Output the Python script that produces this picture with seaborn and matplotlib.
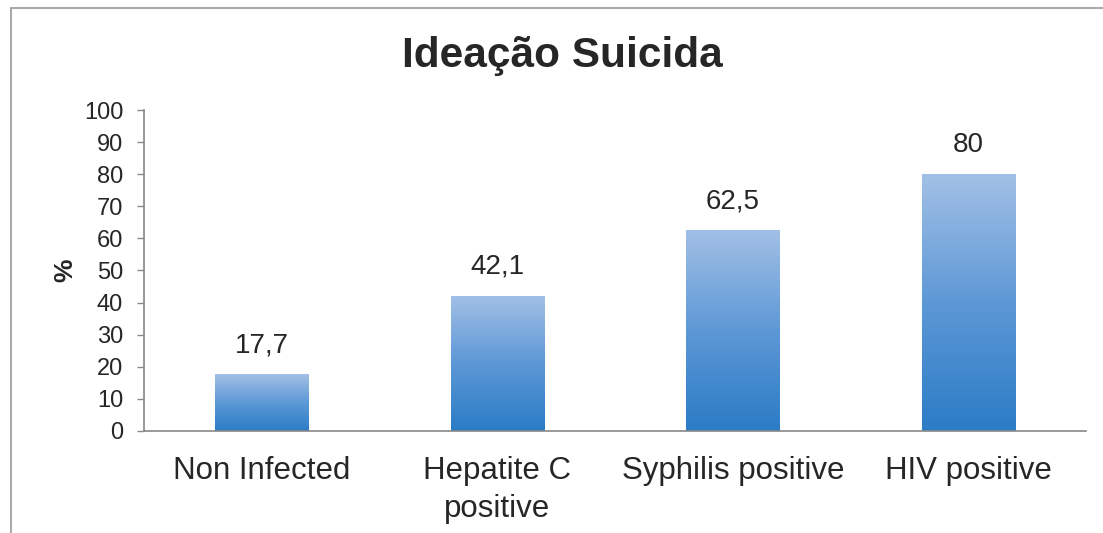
import numpy as np
import pandas as pd
import matplotlib
matplotlib.use("Agg")
import matplotlib.pyplot as plt
from matplotlib.colors import LinearSegmentedColormap
from matplotlib.lines import Line2D
import seaborn as sns

categories = ["Non Infected", "Hepatite C\npositive", "Syphilis positive", "HIV positive"]
values = [17.7, 42.1, 62.5, 80.0]
value_labels = ["17,7", "42,1", "62,5", "80"]
y_ticks = [0, 10, 20, 30, 40, 50, 60, 70, 80, 90, 100]

sns.set_theme(style="white")
plt.rcParams["font.family"] = ["Liberation Sans", "DejaVu Sans"]

fig = plt.figure(figsize=(11.03, 5.33), dpi=100)
fig.patch.set_facecolor("white")
ax = fig.add_axes([0.1306, 0.1914, 0.854, 0.6022])

df = pd.DataFrame({"cat": categories, "val": values})
sns.barplot(data=df, x="cat", y="val", ax=ax, width=0.395,
            color="#5b95d3", saturation=1, edgecolor="none")

ax.set_xlim(-0.5, len(categories) - 0.5)
ax.set_ylim(0, 100)

# vertical gradient fill for every bar, clipped to the bar shape
grad = LinearSegmentedColormap.from_list("bar", ["#2b7cc6", "#5d98d6", "#a2c0e6"])
img = np.linspace(0, 1, 256).reshape(-1, 1)
for patch in ax.patches:
    x0, y0 = patch.get_x(), patch.get_y()
    w, h = patch.get_width(), patch.get_height()
    im = ax.imshow(img, cmap=grad, origin="lower", aspect="auto",
                   extent=(x0, x0 + w, y0, y0 + h), zorder=patch.get_zorder() + 0.1)
    im.set_clip_path(patch)

ax.set_xlim(-0.5, len(categories) - 0.5)
ax.set_ylim(0, 100)

for i, (v, lab) in enumerate(zip(values, value_labels)):
    ax.text(i, v + 5, lab, ha="center", va="bottom", fontsize=20, color="#262626")

ax.set_yticks(y_ticks)
ax.set_yticklabels([str(t) for t in y_ticks], fontsize=17, color="#262626")
ax.set_xticks(range(len(categories)))
ax.set_xticklabels(categories, fontsize=22.5, color="#262626", linespacing=1.35)
ax.set_xticks(np.arange(-0.5, len(categories)), minor=True)
ax.tick_params(axis="x", which="major", length=0, pad=18)
ax.tick_params(axis="x", which="minor", length=6, color="#888888", width=1, direction="out")
ax.tick_params(axis="y", length=5, color="#888888", width=1, direction="out", left=True, pad=10)

ax.set_xlabel("")
ax.set_ylabel("%", fontsize=19, fontweight="bold", color="#262626", labelpad=5)

for side in ["top", "right"]:
    ax.spines[side].set_visible(False)
for side in ["left", "bottom"]:
    ax.spines[side].set_color("#888888")
    ax.spines[side].set_linewidth(1.2)

fig.text(0.51, 0.895, "Ideação Suicida", ha="center", va="center",
         fontsize=30.5, fontweight="bold", color="#262626")

# outer frame (top and left edges)
fig.add_artist(Line2D([11 / 1103, 1.0], [1 - 8 / 533, 1 - 8 / 533],
                      transform=fig.transFigure, color="#aaaaaa", lw=1.5))
fig.add_artist(Line2D([11 / 1103, 11 / 1103], [0.0, 1 - 8 / 533],
                      transform=fig.transFigure, color="#aaaaaa", lw=1.5))

fig.savefig("out.png", dpi=100, facecolor="white")
